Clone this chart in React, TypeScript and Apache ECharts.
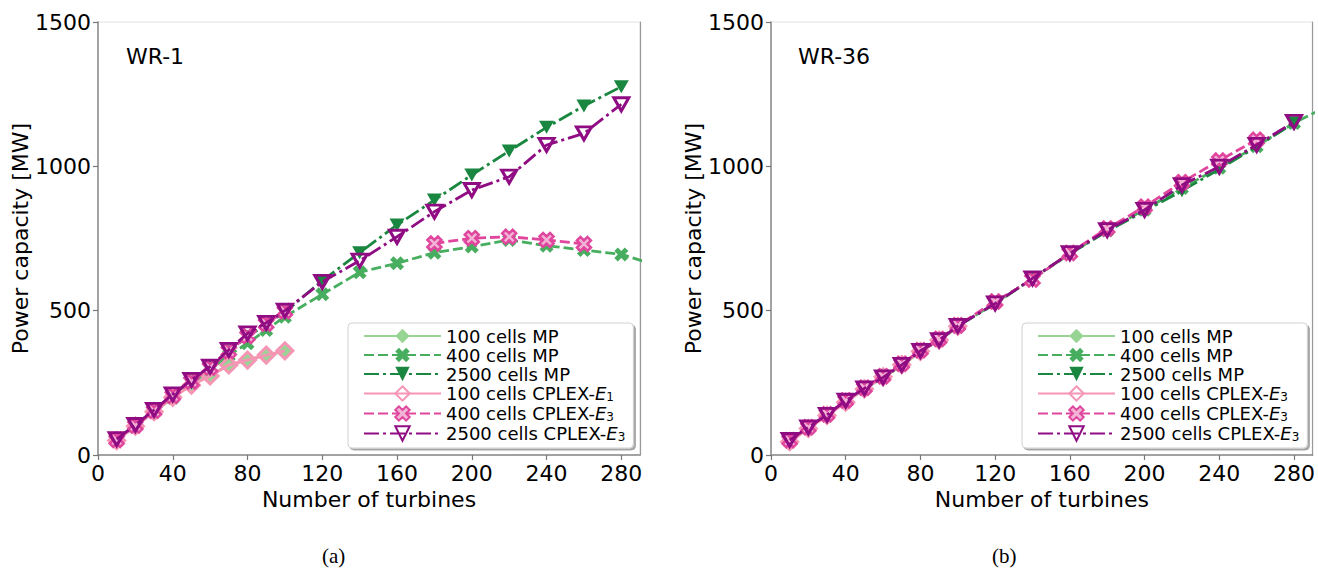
import React, { useEffect, useRef } from 'react';
import * as echarts from 'echarts';

// ---------- data ----------
const xSmall = [10, 20, 30, 40, 50, 60, 70, 80, 90, 100];
const xLarge = [120, 140, 160, 180, 200, 220, 240, 260, 280];
const xFull = [...xSmall, ...xLarge];
const xFullExt = [...xFull, 300];
const xCplex400 = [...xSmall, 120, 140, 160, 180, 200, 220, 240, 260];

const xTickLabels = [0, 40, 80, 120, 160, 200, 240, 280];
const yTickLabels = [0, 500, 1000, 1500];

const seriesNamesWR1 = ['100 cells MP', '400 cells MP', '2500 cells MP', '100 cells CPLEX-E1', '400 cells CPLEX-E3', '2500 cells CPLEX-E3'];
const seriesNamesWR36 = ['100 cells MP', '400 cells MP', '2500 cells MP', '100 cells CPLEX-E3', '400 cells CPLEX-E3', '2500 cells CPLEX-E3'];

// WR-1
const wr1Mp100 = [52, 102, 152, 202, 243, 278, 310, 330, 346, 358];
const wr1Mp400 = [50, 100, 150, 198, 248, 296, 345, 387, 433, 479, 557, 633, 664, 701, 722, 745, 725, 710, 695, 655];
const wr1Mp2500 = [55, 104, 155, 208, 256, 304, 360, 410, 452, 495, 604, 701, 797, 883, 970, 1053, 1135, 1209, 1276];
const wr1Cplex100 = [50, 100, 150, 200, 242, 274, 312, 329, 346, 361];
const wr1Cplex400: (number | null)[] = [52, 102, 153, 205, 255, 303, 360, 412, 455, 498, null, null, null, 733, 751, 756, 745, 731];
const wr1Cplex2500 = [55, 104, 156, 210, 260, 306, 364, 421, 458, 500, 600, 673, 756, 843, 918, 964, 1074, 1114, 1215];

// WR-36
const wr36Mp100 = [48, 93, 138, 184, 228, 268, 310, 358, 396, 443];
const wr36Mp400 = [50, 94, 139, 186, 230, 270, 312, 360, 398, 445, 527, 610, 697, 778, 850, 925, 995, 1070, 1150, 1215];
const wr36Mp2500 = [50, 96, 139, 187, 231, 269, 312, 361, 398, 447, 524, 612, 697, 775, 845, 915, 990, 1068, 1150];
const wr36Cplex100 = [46, 92, 137, 183, 229, 271, 313, 359, 398, 446];
const wr36Cplex400 = [51, 96, 141, 189, 233, 273, 316, 363, 402, 449, 532, 608, 700, 785, 860, 945, 1020, 1092];
const wr36Cplex2500 = [52, 96, 139, 188, 231, 269, 312, 361, 398, 447, 525, 612, 699, 779, 849, 935, 999, 1074, 1154];

// ---------- styles ----------
const FONT = 'DejaVu Sans';
const XPATH = 'path://M0,2.5 L2.5,0 L5,2.5 L7.5,0 L10,2.5 L7.5,5 L10,7.5 L7.5,10 L5,7.5 L2.5,10 L0,7.5 L2.5,5 Z';
const DASH = [10, 4];
const DASHDOT = [15, 4, 3, 4];

type Sty = { color: string; symbol: string; size: number | number[]; rotate?: number; line: any; fill: string; width: number; border: number };
const styles: Sty[] = [
  { color: '#98d594', symbol: 'diamond', size: 16, line: 'solid', fill: '#98d594', width: 2.8, border: 0 },
  { color: '#48ae5f', symbol: XPATH, size: 14, line: DASH, fill: '#48ae5f', width: 2.8, border: 0 },
  { color: '#1a8740', symbol: 'triangle', size: [15, 13], rotate: 180, line: DASHDOT, fill: '#1a8740', width: 2.8, border: 0 },
  { color: '#f596b5', symbol: 'diamond', size: 16, line: 'solid', fill: 'rgba(255,255,255,0)', width: 3, border: 3 },
  { color: '#e0469d', symbol: XPATH, size: 14, line: DASH, fill: '#f2b3d6', width: 2.8, border: 2.5 },
  { color: '#900c83', symbol: 'triangle', size: [15, 13], rotate: 180, line: DASHDOT, fill: 'rgba(255,255,255,0)', width: 2.8, border: 3 },
];

const pairs = (xs: number[], ys: (number | null)[]) => xs.map((x, i) => [x, ys[i] == null ? '-' : ys[i]]);

function makeSeries(name: string, idx: number, xs: number[], ys: (number | null)[], gi: number) {
  const s = styles[idx];
  return {
    type: 'line',
    name,
    xAxisIndex: gi,
    yAxisIndex: gi * 2,
    data: pairs(xs, ys),
    symbol: s.symbol,
    symbolSize: s.size,
    symbolRotate: s.rotate ?? 0,
    showAllSymbol: true,
    connectNulls: false,
    clip: true,
    lineStyle: { color: s.color, width: s.width, type: s.line },
    itemStyle: { color: s.fill, borderColor: s.color, borderWidth: s.border },
    emphasis: { disabled: true },
    z: 2 + idx,
  };
}

const legendFormatter = (name: string) => name.replace(/CPLEX-E(\d)$/, 'CPLEX-{it|E}{sub|$1}');

export default function App() {
  const ref = useRef<HTMLDivElement>(null);
  useEffect(() => {
    if (!ref.current) return;
    const chart = echarts.init(ref.current, undefined, { renderer: 'svg' });
    const grids = [
      { left: 98, top: 22, width: 542, height: 433 },
      { left: 771, top: 22, width: 542, height: 433 },
    ];
    const xAxes = grids.map((_, gi) => ({
      type: 'value',
      gridIndex: gi,
      min: 0,
      max: 290,
      name: 'Number of turbines',
      nameLocation: 'middle',
      nameGap: 23,
      nameTextStyle: { fontSize: 22, fontFamily: FONT, color: '#000' },
      axisLine: { show: true, onZero: false, lineStyle: { color: '#888', width: 1.5 } },
      axisTick: { show: true, inside: false, length: 5, lineStyle: { color: '#777', width: 1.2 }, customValues: xTickLabels },
      axisLabel: { fontSize: 22, fontFamily: FONT, color: '#000', margin: 7, customValues: xTickLabels, formatter: (v: number) => String(v) },
      splitLine: { show: false },
    }));
    const yAxes: any[] = [];
    grids.forEach((_, gi) => {
      yAxes.push({
        type: 'value',
        gridIndex: gi,
        min: 0,
        max: 1500,
        interval: 500,
        name: 'Power capacity [MW]',
        nameLocation: 'middle',
        nameGap: 58,
        nameTextStyle: { fontSize: 22, fontFamily: FONT, color: '#000' },
        axisLine: { show: true, onZero: false, lineStyle: { color: '#888', width: 1.5 } },
        axisTick: { show: true, inside: false, length: 5, lineStyle: { color: '#777', width: 1.2 }, customValues: yTickLabels },
        axisLabel: { fontSize: 22, fontFamily: FONT, color: '#000', margin: 7, customValues: yTickLabels, formatter: (v: number) => String(v) },
        splitLine: { show: false },
      });
      yAxes.push({
        type: 'value',
        gridIndex: gi,
        position: 'right',
        min: 0,
        max: 1500,
        axisLine: { show: true, onZero: false, lineStyle: { color: '#999', width: 1.2 } },
        axisTick: { show: false },
        axisLabel: { show: false },
        splitLine: { show: false },
      });
    });

    const series = [
      makeSeries(seriesNamesWR1[0], 0, xSmall, wr1Mp100, 0),
      makeSeries(seriesNamesWR1[1], 1, xFullExt, wr1Mp400, 0),
      makeSeries(seriesNamesWR1[2], 2, xFull, wr1Mp2500, 0),
      makeSeries(seriesNamesWR1[3], 3, xSmall, wr1Cplex100, 0),
      makeSeries(seriesNamesWR1[4], 4, xCplex400, wr1Cplex400, 0),
      makeSeries(seriesNamesWR1[5], 5, xFull, wr1Cplex2500, 0),
      makeSeries(seriesNamesWR36[0], 0, xSmall, wr36Mp100, 1),
      makeSeries(seriesNamesWR36[1], 1, xFullExt, wr36Mp400, 1),
      makeSeries(seriesNamesWR36[2], 2, xFull, wr36Mp2500, 1),
      makeSeries(seriesNamesWR36[3], 3, xSmall, wr36Cplex100, 1),
      makeSeries(seriesNamesWR36[4], 4, xCplex400, wr36Cplex400, 1),
      makeSeries(seriesNamesWR36[5], 5, xFull, wr36Cplex2500, 1),
    ];

    const legendBase = {
      orient: 'vertical',
      top: 323,
      itemWidth: 77,
      itemHeight: 18,
      itemGap: 1,
      itemTextGap: 5,
      padding: [4, 8, 5, 15],
      backgroundColor: '#fff',
      borderColor: '#d0d0d0',
      borderWidth: 1,
      borderRadius: 4,
      shadowColor: 'rgba(0,0,0,0.35)',
      shadowBlur: 0,
      shadowOffsetX: 2,
      shadowOffsetY: 2,
      selectedMode: false,
      formatter: legendFormatter,
      textStyle: {
        fontSize: 18,
        fontFamily: FONT,
        color: '#000',
        lineHeight: 18,
        rich: {
          it: { fontSize: 18, fontFamily: FONT, fontStyle: 'italic', color: '#000', lineHeight: 18 },
          sub: { fontSize: 12, fontFamily: FONT, color: '#000', lineHeight: 12, padding: [7, 0, 0, 0] },
        },
      },
    };

    chart.setOption({
      animation: false,
      grid: grids.map((g) => ({ ...g, show: true, borderColor: '#e2e2e2', borderWidth: 1, backgroundColor: 'transparent' })),
      xAxis: xAxes,
      yAxis: yAxes,
      legend: [
        { ...legendBase, left: 348, data: seriesNamesWR1 },
        { ...legendBase, left: 1022, data: seriesNamesWR36 },
      ],
      series,
      graphic: [
        { type: 'text', left: 126, top: 45, style: { text: 'WR-1', fontSize: 22, fontFamily: FONT, fill: '#000' } },
        { type: 'text', left: 798, top: 45, style: { text: 'WR-36', fontSize: 22, fontFamily: FONT, fill: '#000' } },
        { type: 'text', left: 322, top: 545, style: { text: '(a)', fontSize: 21, fontFamily: 'Liberation Serif', fill: '#000' } },
        { type: 'text', left: 992, top: 545, style: { text: '(b)', fontSize: 21, fontFamily: 'Liberation Serif', fill: '#000' } },
      ],
    });
    return () => chart.dispose();
  }, []);
  return <div ref={ref} style={{ position: 'absolute', left: 0, top: 0, width: 1318, height: 573 }} />;
}
